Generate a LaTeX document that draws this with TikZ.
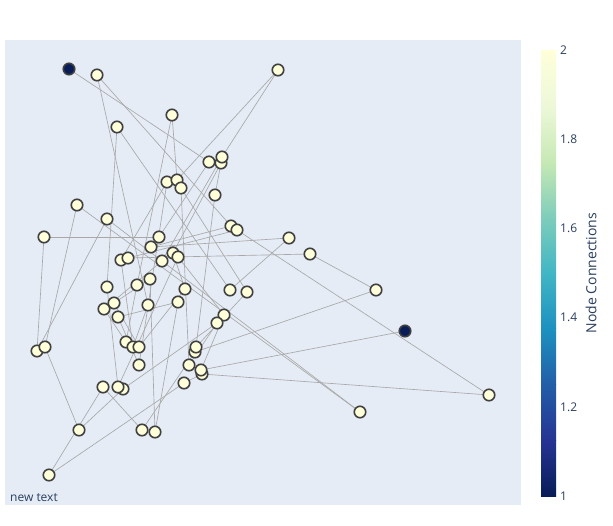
\documentclass[tikz,border=0pt]{standalone}
\usepackage{fontspec}
\setmainfont{Open Sans}
\definecolor{plotbg}{HTML}{E5ECF6}
\definecolor{txt}{HTML}{2A3F5F}
\definecolor{edgec}{HTML}{A8A8A8}
\definecolor{ltc}{RGB}{255,255,217}
\definecolor{dkc}{RGB}{8,29,88}
\definecolor{cA}{RGB}{8,29,88}
\definecolor{cB}{RGB}{37,52,148}
\definecolor{cC}{RGB}{34,94,168}
\definecolor{cD}{RGB}{29,145,192}
\definecolor{cE}{RGB}{65,182,196}
\definecolor{cF}{RGB}{127,205,187}
\definecolor{cG}{RGB}{199,233,180}
\definecolor{cH}{RGB}{237,248,217}
\definecolor{cI}{RGB}{255,255,217}
\pgfdeclarelayer{bg}
\pgfdeclarelayer{edges}
\pgfsetlayers{bg,edges,main}
\tikzset{
  nd/.style={circle, inner sep=0pt, minimum size=11.5pt, line width=1.6pt, draw=black!75},
  lt/.style={nd, fill=ltc},
  dk/.style={nd, fill=dkc},
  ed/.style={draw=edgec, line width=0.65pt},
  tick/.style={font=\fontsize{12}{14}\selectfont, text=txt, anchor=west, inner sep=0pt}
}
\begin{document}
\begin{tikzpicture}[x=1pt,y=-1pt]
\useasboundingbox (0,0) rectangle (613,525);
\begin{pgfonlayer}{bg}
\fill[white] (0,0) rectangle (613,525);
\fill[plotbg] (5,40) rectangle (521,505);
\end{pgfonlayer}
% nodes
\node[dk] (n0) at (69,69) {};
\node[lt] (n1) at (97,75) {};
\node[lt] (n2) at (278,70) {};
\node[lt] (n3) at (172,115) {};
\node[lt] (n4) at (117,127) {};
\node[lt] (n5) at (209,162) {};
\node[lt] (n7) at (221,163) {};
\node[lt] (n6) at (222,157) {};
\node[lt] (n8) at (167,182) {};
\node[lt] (n9) at (177,180) {};
\node[lt] (n10) at (181,188) {};
\node[lt] (n11) at (215,195) {};
\node[lt] (n12) at (77,205) {};
\node[lt] (n13) at (107,219) {};
\node[lt] (n14) at (231,226) {};
\node[lt] (n15) at (237,230) {};
\node[lt] (n16) at (44,237) {};
\node[lt] (n17) at (159,237) {};
\node[lt] (n18) at (289,238) {};
\node[lt] (n19) at (151,247) {};
\node[lt] (n20) at (310,254) {};
\node[lt] (n21) at (173,253) {};
\node[lt] (n22) at (178,257) {};
\node[lt] (n24) at (121,260) {};
\node[lt] (n23) at (128,258) {};
\node[lt] (n25) at (162,261) {};
\node[lt] (n26) at (150,279) {};
\node[lt] (n27) at (137,285) {};
\node[lt] (n28) at (107,287) {};
\node[lt] (n29) at (185,289) {};
\node[lt] (n30) at (230,290) {};
\node[lt] (n31) at (247,292) {};
\node[lt] (n32) at (376,290) {};
\node[lt] (n33) at (178,302) {};
\node[lt] (n34) at (114,303) {};
\node[lt] (n35) at (148,305) {};
\node[lt] (n36) at (104,309) {};
\node[lt] (n37) at (224,315) {};
\node[lt] (n38) at (118,317) {};
\node[lt] (n39) at (217,323) {};
\node[dk] (n40) at (405,331) {};
\node[lt] (n41) at (126,342) {};
\node[lt] (n42) at (133,347) {};
\node[lt] (n43) at (139,347) {};
\node[lt] (n45) at (195,352) {};
\node[lt] (n44) at (196,347) {};
\node[lt] (n47) at (37,351) {};
\node[lt] (n46) at (45,347) {};
\node[lt] (n48) at (139,365) {};
\node[lt] (n49) at (189,365) {};
\node[lt] (n51) at (202,374) {};
\node[lt] (n50) at (201,370) {};
\node[lt] (n52) at (184,383) {};
\node[lt] (n53) at (103,387) {};
\node[lt] (n55) at (123,389) {};
\node[lt] (n54) at (118,387) {};
\node[lt] (n56) at (79,430) {};
\node[lt] (n57) at (142,430) {};
\node[lt] (n58) at (155,432) {};
\node[lt] (n59) at (49,475) {};
\node[lt] (n60) at (360,412) {};
\node[lt] (n61) at (489,395) {};
% edges
\begin{pgfonlayer}{edges}
\foreach \a/\b in {n0/n5,n1/n14,n1/n35,n4/n28,n4/n30,n3/n27,n3/n9,n2/n9,n2/n6,
  n15/n61,n40/n50,n51/n61,n14/n19,n15/n23,n16/n17,n16/n47,n12/n46,n12/n60,n13/n60,
  n10/n31,n31/n44,n18/n30,n23/n20,n19/n18,n20/n32,n32/n45,n46/n56,n56/n55,n59/n53,
  n59/n52,n54/n28,n55/n39,n57/n53,n57/n45,n58/n33,n58/n26,n38/n33,n13/n47,n17/n5,
  n6/n25,n7/n21,n7/n11,n11/n44,n10/n49,n8/n48,n8/n24,n21/n29,n22/n37,n24/n42,
  n25/n36,n26/n34,n27/n41,n29/n43,n34/n43,n35/n42,n36/n41,n37/n50,n38/n48,n39/n49,
  n51/n52,n22/n54}
  \draw[ed] (\a.center) -- (\b.center);
\end{pgfonlayer}
% colorbar
\shade[bottom color=cA, top color=cB] (541,496) rectangle (556,440.25);
\shade[bottom color=cB, top color=cC] (541,440.25) rectangle (556,384.5);
\shade[bottom color=cC, top color=cD] (541,384.5) rectangle (556,328.75);
\shade[bottom color=cD, top color=cE] (541,328.75) rectangle (556,273);
\shade[bottom color=cE, top color=cF] (541,273) rectangle (556,217.25);
\shade[bottom color=cF, top color=cG] (541,217.25) rectangle (556,161.5);
\shade[bottom color=cG, top color=cH] (541,161.5) rectangle (556,105.75);
\shade[bottom color=cH, top color=cI] (541,105.75) rectangle (556,50);
\node[tick] (t1) at (560,496) {1};
\node[tick] (t12) at (560,406.8) {1.2};
\node[tick] (t14) at (560,317.6) {1.4};
\node[tick] (t16) at (560,228.4) {1.6};
\node[tick] (t18) at (560,139.2) {1.8};
\node[tick] (t2) at (560,50) {2};
\node[rotate=90, font=\fontsize{14}{16}\selectfont, text=txt] (ttl) at (591,273) {Node Connections};
\node[anchor=base west, inner sep=0pt, font=\fontsize{12}{14}\selectfont, text=txt] (nt) at (10,501) {new text};
\end{tikzpicture}
\end{document}
